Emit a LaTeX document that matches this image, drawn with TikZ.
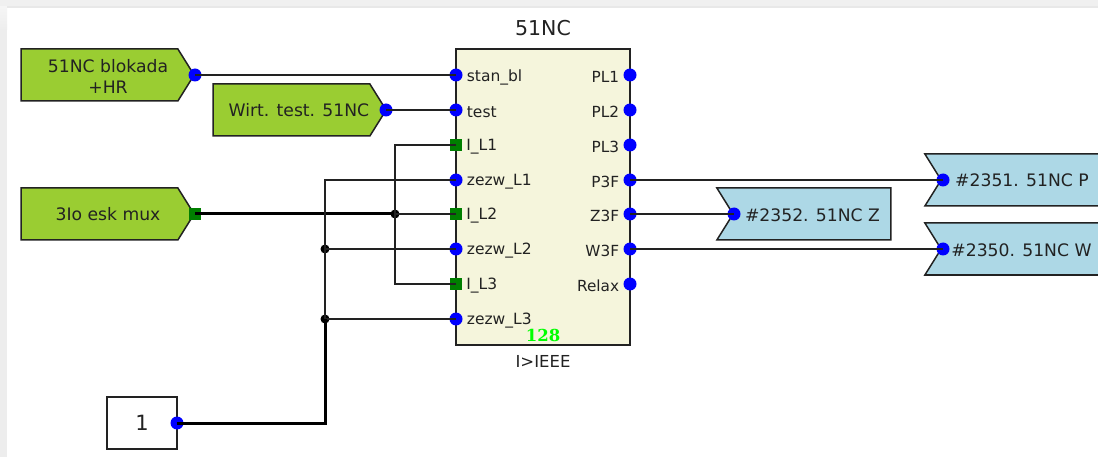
\documentclass[tikz,border=0pt]{standalone}
\usepackage{fontspec}
\setmainfont{DejaVu Sans}
\newfontfamily\numfont{DejaVu Serif}
\usepackage{tikz}
\usetikzlibrary{shapes,arrows,positioning,calc}
\definecolor{inputgreen}{HTML}{9ACD32}
\definecolor{blockbeige}{HTML}{F5F5DC}
\definecolor{flagblue}{HTML}{ADD8E6}
\definecolor{pingreen}{HTML}{007F00}
\definecolor{darkline}{HTML}{222222}

\begin{document}
\begin{tikzpicture}[
    x=1pt, y=-1pt,
    every node/.style={text=darkline},
    input/.style={signal, signal to=east, signal pointer angle=116, draw=darkline, line width=1.5pt, fill=inputgreen, minimum width=173pt, minimum height=52pt, inner sep=0pt},
    flag/.style={signal, signal to=nowhere, signal from=west, signal pointer angle=116, draw=darkline, line width=1.5pt, fill=flagblue, minimum height=52pt, inner sep=0pt},
    caption/.style={font=\fontsize{17.2}{21}\selectfont, inner sep=0pt, align=center},
    bluepin/.style={circle, fill=blue, minimum size=13pt, inner sep=0pt},
    greenpin/.style={rectangle, fill=pingreen, minimum size=12pt, inner sep=0pt},
    junction/.style={circle, fill=black, minimum size=9pt, inner sep=0pt},
    inlabel/.style={label={[font=\fontsize{15.5}{18}\selectfont, inner sep=0pt, label distance=4pt, yshift=-2pt]right:#1}},
    outlabel/.style={label={[font=\fontsize{15.3}{18}\selectfont, inner sep=0pt, label distance=4pt, yshift=-2pt]left:#1}},
    wire/.style={draw=darkline, line width=1.5pt},
    bus/.style={draw=black, line width=3pt}
]
    \clip (0,0) rectangle (1098,457);
    % window edge
    \fill[white] (0,0) rectangle (1098,457);
    \fill[black!7] (0,30) rectangle (7,457);
    \fill[top color=black!3, bottom color=black!7] (0,0) rectangle (7,30);
    \fill[black!6] (0,0) rectangle (1098,6);
    \fill[black!9] (7,6) rectangle (1098,8.5);

    % function block
    \node[draw=darkline, line width=1.5pt, fill=blockbeige, minimum width=174pt, minimum height=296pt, inner sep=0pt] (block) at (543,197) {};
    \node[above=12pt of block, inner sep=0pt, font=\fontsize{20.5}{24}\selectfont] (blockname) {51NC};
    \node[below=10pt of block, inner sep=0pt, font=\fontsize{16.5}{20}\selectfont] (blocktype) {I>IEEE};
    \node[inner sep=0pt, font=\numfont\bfseries\fontsize{16.5}{18}\selectfont, text=green] (blocknum) at (543,335.5) {128};

    % inputs and outputs
    \node[input] (blokada) at (99.5,75) {};
    \node[input] (wirt) at (291.5,110) {};
    \node[input] (mux) at (99.5,214) {};
    \node[caption] (textblokada) at (108,76) {51NC blokada\\+HR};
    \node[caption] (textwirt) at (299,110.5) {Wirt. test. 51NC};
    \node[caption] (textmux) at (108,214.5) {3Io esk mux};
    \node[draw=darkline, line width=1.5pt, fill=white, minimum width=70pt, minimum height=52pt, inner sep=0pt, font=\fontsize{21}{24}\selectfont] (one) at (142,423) {1};
    \node[flag, minimum width=194pt] (flagp) at (1030,180) {};
    \node[flag, minimum width=174pt] (flagz) at (812,214) {};
    \node[flag, minimum width=194pt] (flagw) at (1030,249) {};
    \node[caption] (textp) at (1022,180.5) {\#2351. 51NC P};
    \node[caption] (textz) at (812.5,215) {\#2352. 51NC Z};
    \node[caption] (textw) at (1021.5,250) {\#2350. 51NC W};

    % pins
    \node[bluepin] (pblokada) at (195,75) {};
    \node[bluepin] (pwirt) at (386,110) {};
    \node[greenpin] (pmux) at (195,214) {};
    \node[bluepin] (pone) at (177,423) {};
    \node[bluepin, inlabel=stan\_bl] (stan) at (456,75) {};
    \node[bluepin, inlabel=test] (test) at (456,110) {};
    \node[greenpin, inlabel=I\_L1] (il1) at (456,145) {};
    \node[bluepin, inlabel=zezw\_L1] (zl1) at (456,180) {};
    \node[greenpin, inlabel=I\_L2] (il2) at (456,214) {};
    \node[bluepin, inlabel=zezw\_L2] (zl2) at (456,249) {};
    \node[greenpin, inlabel=I\_L3] (il3) at (456,284) {};
    \node[bluepin, inlabel=zezw\_L3] (zl3) at (456,319) {};
    \node[bluepin, outlabel=PL1] (pl1) at (630,75) {};
    \node[bluepin, outlabel=PL2] (pl2) at (630,110) {};
    \node[bluepin, outlabel=PL3] (pl3) at (630,145) {};
    \node[bluepin, outlabel=P3F] (p3f) at (630,180) {};
    \node[bluepin, outlabel=Z3F] (z3f) at (630,214) {};
    \node[bluepin, outlabel=W3F] (w3f) at (630,249) {};
    \node[bluepin, outlabel=Relax] (relax) at (630,284) {};
    \node[bluepin] (pflagp) at (943,180) {};
    \node[bluepin] (pflagz) at (734,214) {};
    \node[bluepin] (pflagw) at (943,249) {};

    % junctions
    \node[junction] (jl2) at (395,214) {};
    \node[junction] (jz2) at (325,249) {};
    \node[junction] (jz3) at (325,319) {};

    % connections
    \draw[wire] (pblokada.center) -- (stan.center);
    \draw[wire] (pwirt.center) -- (test.center);
    \draw[bus] (pmux.center) -- (jl2.center);
    \draw[wire] (jl2.center) -- (il2.center);
    \draw[wire] (il1.center) -| (jl2.center);
    \draw[wire] (il3.center) -| (jl2.center);
    \draw[wire] (zl1.center) -| (jz2.center);
    \draw[wire] (jz2.center) -- (zl2.center);
    \draw[wire] (jz2.center) -- (jz3.center);
    \draw[wire] (jz3.center) -- (zl3.center);
    \draw[bus] (pone.center) -| (jz3.center);
    \draw[wire] (p3f.center) -- (pflagp.center);
    \draw[wire] (z3f.center) -- (pflagz.center);
    \draw[wire] (w3f.center) -- (pflagw.center);
\end{tikzpicture}
\end{document}
